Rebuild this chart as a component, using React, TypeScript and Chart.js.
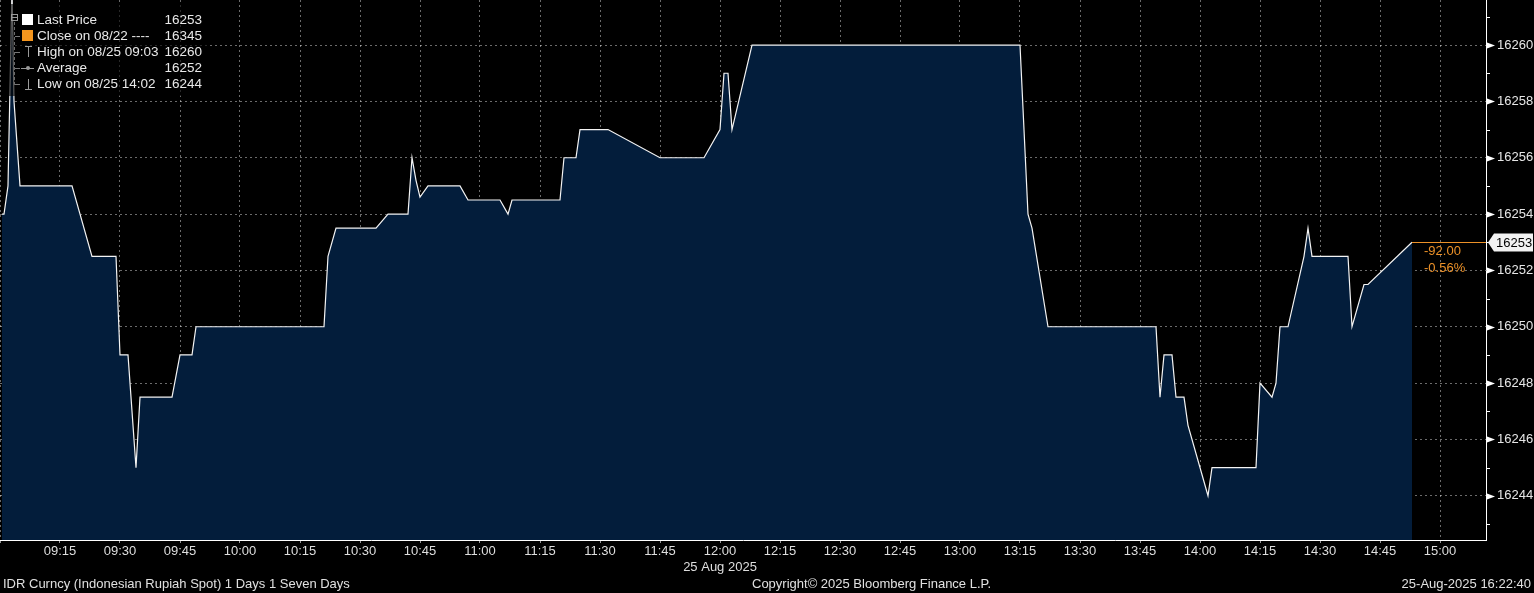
import React, { useEffect, useRef } from 'react';
import { Chart, registerables } from 'chart.js';

Chart.register(...registerables);

// ---- data (time of day, price) ----
const times = [
  '09:00:30', '09:01', '09:02', '09:03', '09:03:30', '09:05', '09:18', '09:23', '09:29', '09:30',
  '09:32', '09:34', '09:35', '09:43', '09:45', '09:48', '09:49', '10:21', '10:22', '10:24',
  '10:34', '10:37', '10:42', '10:43', '10:44', '10:45', '10:47', '10:55', '10:57', '11:05',
  '11:07', '11:08', '11:20', '11:21', '11:24', '11:25', '11:32', '11:45', '11:56', '12:00',
  '12:01', '12:02', '12:03', '12:08', '13:15', '13:17', '13:18', '13:22', '13:49', '13:50',
  '13:51', '13:53', '13:54', '13:56', '13:57', '14:02', '14:03', '14:14', '14:15', '14:18',
  '14:19', '14:20', '14:22', '14:26', '14:27', '14:28', '14:37', '14:38', '14:41', '14:42',
  '14:53',
];
const prices = [
  16254, 16254, 16255, 16262, 16258, 16255, 16255, 16252.5, 16252.5, 16249,
  16249, 16245, 16247.5, 16247.5, 16249, 16249, 16250, 16250, 16252.5, 16253.5,
  16253.5, 16254, 16254, 16256, 16255.2, 16254.6, 16255, 16255, 16254.5, 16254.5,
  16254, 16254.5, 16254.5, 16256, 16256, 16257, 16257, 16256, 16256, 16257,
  16259, 16259, 16257, 16260, 16260, 16254, 16253.5, 16250, 16250, 16247.5,
  16249, 16249, 16247.5, 16247.5, 16246.5, 16244, 16245, 16245, 16248, 16247.5,
  16248, 16250, 16250, 16252.5, 16253.5, 16252.5, 16252.5, 16250, 16251.5, 16251.5,
  16253,
];
const xTickTimes = [
  '09:00', '09:15', '09:30', '09:45', '10:00', '10:15', '10:30', '10:45', '11:00', '11:15',
  '11:30', '11:45', '12:00', '12:15', '12:30', '12:45', '13:00', '13:15', '13:30', '13:45',
  '14:00', '14:15', '14:30', '14:45', '15:00',
];
const yTickValues = [16244, 16246, 16248, 16250, 16252, 16254, 16256, 16258, 16260];
const yMinorValues = [16243, 16245, 16247, 16249, 16251, 16253, 16255, 16257, 16259, 16261];
const axisStart = '09:00';
const axisEnd = '15:11:30';
const yMin = 16242.43;
const yMax = 16261.6;
const dateLabel = '25 Aug 2025';
const dateTick = '12:00';
const lastPrice = 16253;
const netChange = '-92.00';
const pctChange = '-0.56%';
const legendLabels = ['Last Price', 'Close on 08/22 ----', 'High on 08/25 09:03', 'Average', 'Low on 08/25 14:02'];
const legendValues = ['16253', '16345', '16260', '16252', '16244'];
const footerLeft = 'IDR Curncy (Indonesian Rupiah Spot) 1 Days 1 Seven Days';
const footerCenter = 'Copyright\u00A9 2025 Bloomberg Finance L.P.';
const footerRight = '25-Aug-2025 16:22:40';

const FONT = "'Liberation Sans', Arial, sans-serif";
const NAVY = '#031d3b';
const ORANGE = '#ec9128';
const GRID = 'rgba(255,255,255,0.42)';

function toMin(t: string): number {
  const p = t.split(':').map(Number);
  return (p[0] - 9) * 60 + p[1] + (p[2] || 0) / 60;
}
function fmt(m: number): string {
  const h = 9 + Math.floor(m / 60);
  const mm = Math.round(m % 60);
  return `${String(h).padStart(2, '0')}:${String(mm).padStart(2, '0')}`;
}

const extrasPlugin = {
  id: 'bbgExtras',
  afterDraw(chart: any) {
    const { ctx, chartArea, scales } = chart;
    const y = scales.y;
    const x = scales.x;
    const r = chartArea.right;
    ctx.save();
    ctx.fillStyle = '#ffffff';
    ctx.strokeStyle = '#ffffff';
    ctx.lineWidth = 1;
    ctx.setLineDash([]);
    yMinorValues.forEach((v) => {
      const py = Math.round(y.getPixelForValue(v)) + 0.5;
      ctx.beginPath();
      ctx.moveTo(r, py);
      ctx.lineTo(r + 4, py);
      ctx.stroke();
    });
    yTickValues.forEach((v) => {
      const py = Math.round(y.getPixelForValue(v)) + 0.5;
      ctx.beginPath();
      ctx.moveTo(r + 1, py - 3);
      ctx.lineTo(r + 9, py);
      ctx.lineTo(r + 1, py + 3);
      ctx.closePath();
      ctx.fill();
    });
    // last price line
    const lx = x.getPixelForValue(toMin(times[times.length - 1]));
    const ly = Math.round(y.getPixelForValue(lastPrice)) + 0.5;
    ctx.strokeStyle = ORANGE;
    ctx.beginPath();
    ctx.moveTo(lx, ly);
    ctx.lineTo(r, ly);
    ctx.stroke();
    // change texts
    ctx.fillStyle = ORANGE;
    ctx.font = `13px ${FONT}`;
    ctx.textAlign = 'left';
    ctx.textBaseline = 'middle';
    ctx.fillText(netChange, r - 62, ly + 9);
    ctx.fillText(pctChange, r - 62, ly + 26);
    // last price box
    ctx.fillStyle = '#f2f2f2';
    ctx.beginPath();
    ctx.moveTo(r + 2, ly);
    ctx.lineTo(r + 8, ly - 9);
    ctx.lineTo(r + 47, ly - 9);
    ctx.lineTo(r + 47, ly + 9);
    ctx.lineTo(r + 8, ly + 9);
    ctx.closePath();
    ctx.fill();
    ctx.fillStyle = '#000000';
    ctx.fillText(String(lastPrice), r + 10, ly + 1);
    ctx.restore();
  },
};

export default function App() {
  const canvasRef = useRef<HTMLCanvasElement | null>(null);

  useEffect(() => {
    const canvas = canvasRef.current;
    if (!canvas) return;
    const data = times.map((t, i) => ({ x: toMin(t), y: prices[i] }));
    const xTicks = xTickTimes.map(toMin);
    const chart = new Chart(canvas, {
      type: 'line',
      data: {
        datasets: [
          {
            data,
            borderColor: '#f4f4f4',
            borderWidth: 1.2,
            backgroundColor: NAVY,
            fill: 'start',
            pointRadius: 0,
            tension: 0,
          },
        ],
      },
      options: {
        responsive: false,
        animation: false,
        devicePixelRatio: 1,
        layout: { padding: 0 },
        plugins: { legend: { display: false }, tooltip: { enabled: false } },
        scales: {
          x: {
            type: 'linear',
            position: 'bottom',
            min: toMin(axisStart),
            max: toMin(axisEnd),
            z: 1,
            afterBuildTicks: (s: any) => {
              s.ticks = xTicks.map((v) => ({ value: v }));
            },
            afterFit: (s: any) => {
              s.height = 53;
              s.paddingLeft = 0;
              s.paddingRight = 0;
            },
            grid: {
              color: GRID,
              drawTicks: true,
              tickLength: 4,
              tickColor: 'rgba(255,255,255,0.6)',
              tickBorderDash: [2, 2],
            } as any,
            border: { display: true, color: '#ffffff', width: 1, dash: [2, 3] },
            ticks: {
              autoSkip: false,
              maxRotation: 0,
              padding: 0,
              color: '#dedede',
              font: { family: FONT, size: 13 },
              callback: (v: any) => {
                if (v === 0) return '';
                const s = fmt(v);
                return s === dateTick ? [s, dateLabel] : s;
              },
            },
          },
          y: {
            type: 'linear',
            position: 'right',
            min: yMin,
            max: yMax,
            z: 1,
            afterBuildTicks: (s: any) => {
              s.ticks = yTickValues.map((v) => ({ value: v }));
            },
            afterFit: (s: any) => {
              s.width = 48;
              s.paddingTop = 0;
              s.paddingBottom = 0;
            },
            grid: {
              color: GRID,
              drawTicks: false,
            } as any,
            border: { display: true, color: '#ffffff', width: 1, dash: [2, 3] },
            ticks: {
              padding: 11,
              color: '#e6e6e6',
              font: { family: FONT, size: 13 },
              callback: (v: any) => String(v),
            },
          },
        },
      },
      plugins: [extrasPlugin],
    } as any);
    return () => chart.destroy();
  }, []);

  const rowY = [20, 36, 52, 68, 84];
  const grey = '#9a9a9a';
  const legendFont = 13.5;

  return (
    <div style={{ position: 'fixed', left: 0, top: 0, width: 1534, height: 593, background: '#000', overflow: 'hidden', fontFamily: FONT }}>
      <canvas ref={canvasRef} width={1534} height={593} style={{ position: 'absolute', left: 0, top: 0, width: 1534, height: 593 }} />
      {/* legend */}
      <div style={{ position: 'absolute', left: 2, top: 4, width: 205, height: 92, background: 'rgba(0,0,0,0.62)' }} />
      {/* tree */}
      <div style={{ position: 'absolute', left: 11, top: 14, width: 5, height: 5, border: `1px solid ${grey}` }} />
      <div style={{ position: 'absolute', left: 12, top: 16.5, width: 5, height: 1, background: grey }} />
      <div style={{ position: 'absolute', left: 14, top: 22, width: 1, height: 63, borderLeft: `1px dashed #6a6a6a` }} />
      {rowY.slice(1).map((ry) => (
        <div key={ry} style={{ position: 'absolute', left: 15, top: ry, width: 5, height: 1, background: '#777' }} />
      ))}
      <div style={{ position: 'absolute', left: 22, top: 14, width: 11, height: 11, background: '#ffffff' }} />
      <div style={{ position: 'absolute', left: 22, top: 30, width: 11, height: 11, background: '#f5961e' }} />
      {/* high icon */}
      <div style={{ position: 'absolute', left: 25, top: 46, width: 7, height: 1, background: grey }} />
      <div style={{ position: 'absolute', left: 28, top: 46, width: 1, height: 11, background: grey }} />
      {/* average icon */}
      <div style={{ position: 'absolute', left: 21, top: 68, width: 13, height: 1, background: grey }} />
      <div style={{ position: 'absolute', left: 26, top: 66, width: 4, height: 4, borderRadius: 2, background: grey }} />
      {/* low icon */}
      <div style={{ position: 'absolute', left: 28, top: 79, width: 1, height: 11, background: grey }} />
      <div style={{ position: 'absolute', left: 25, top: 89, width: 7, height: 1, background: grey }} />
      {legendLabels.map((lab, i) => (
        <div key={lab} style={{ position: 'absolute', left: 37, top: rowY[i] - 8, height: 16, lineHeight: '16px', fontSize: legendFont, color: '#e8e8e8', whiteSpace: 'pre' }}>
          {lab}
        </div>
      ))}
      {legendValues.map((val, i) => (
        <div key={i} style={{ position: 'absolute', right: 1534 - 202, top: rowY[i] - 8, height: 16, lineHeight: '16px', fontSize: legendFont, color: '#e8e8e8', textAlign: 'right' }}>
          {val}
        </div>
      ))}
      {/* footer */}
      <div style={{ position: 'absolute', left: 3, top: 576, lineHeight: '16px', fontSize: 13, color: '#e0e0e0', whiteSpace: 'pre' }}>{footerLeft}</div>
      <div style={{ position: 'absolute', left: 752, top: 576, lineHeight: '16px', fontSize: 13, color: '#e0e0e0', whiteSpace: 'pre' }}>{footerCenter}</div>
      <div style={{ position: 'absolute', right: 3, top: 576, lineHeight: '16px', fontSize: 13, color: '#e0e0e0', whiteSpace: 'pre' }}>{footerRight}</div>
    </div>
  );
}
